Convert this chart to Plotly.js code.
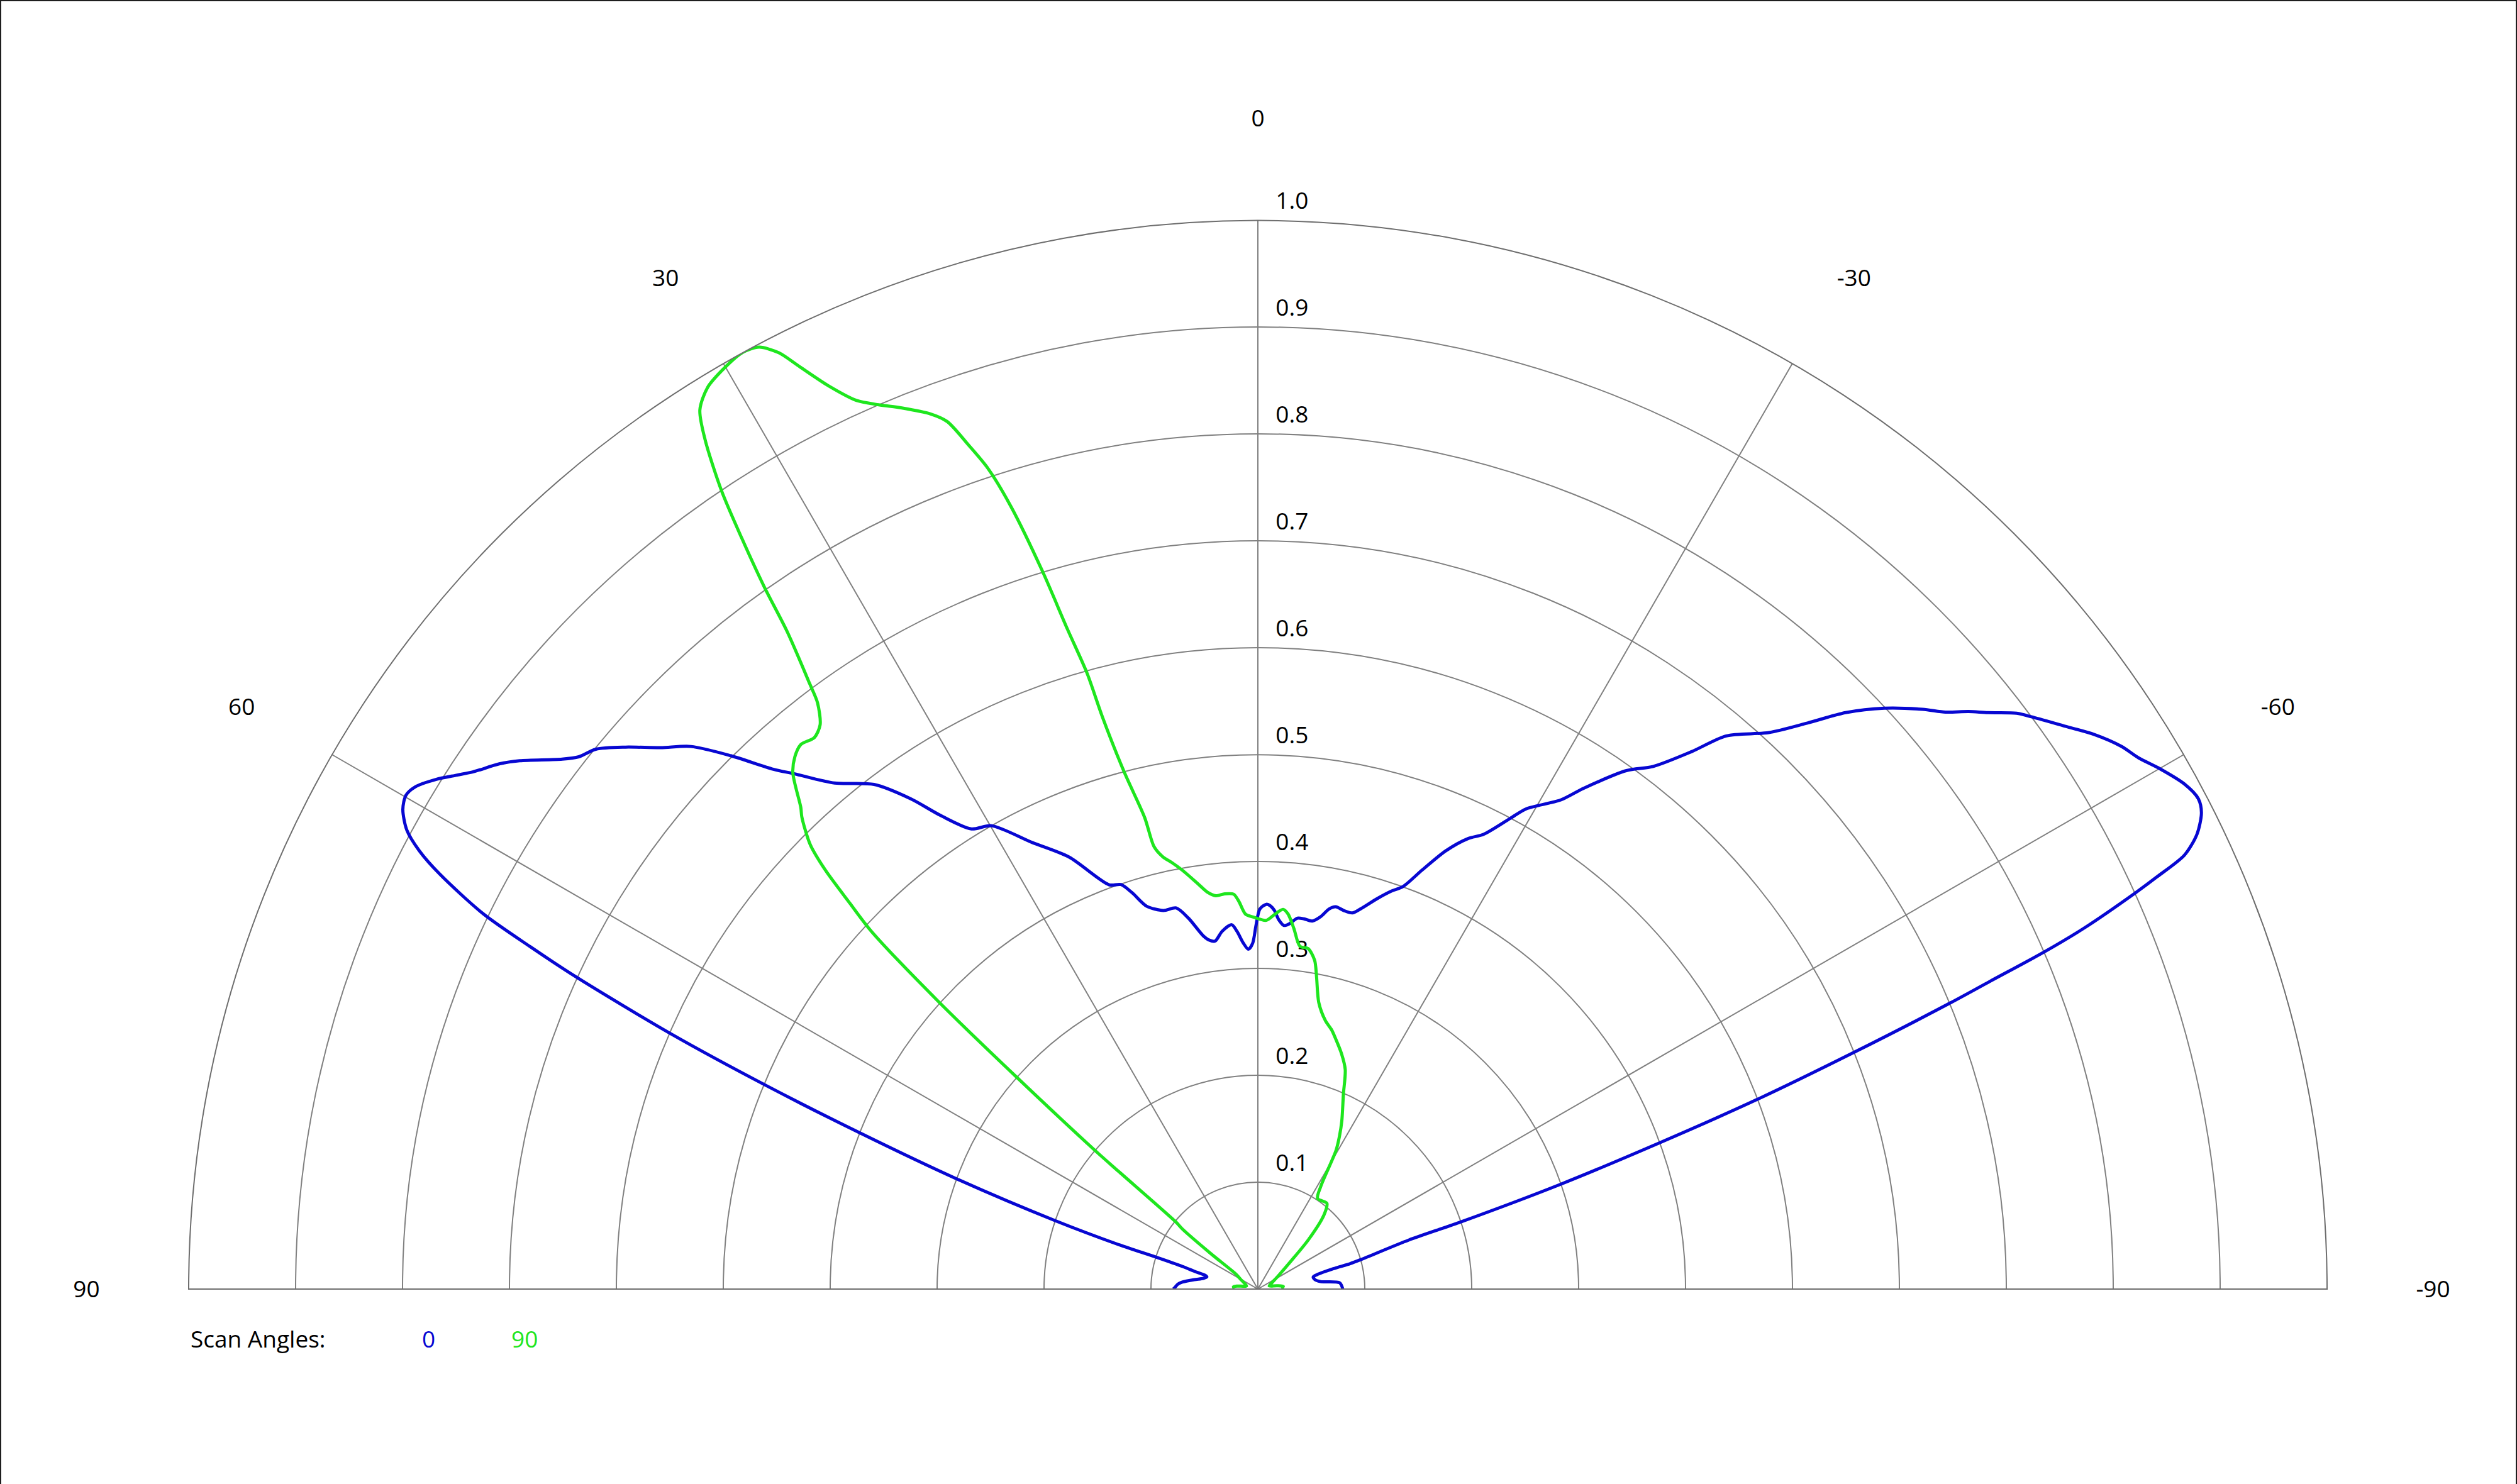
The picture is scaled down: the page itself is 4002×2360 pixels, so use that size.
<!DOCTYPE html>
<html>
<head>
<meta charset="utf-8">
<script src="https://cdn.plot.ly/plotly-3.0.1.min.js"></script>
<style>
  html, body { margin: 0; padding: 0; background: #ffffff; }
  #chart { width: 4002px; height: 2360px; }
</style>
</head>
<body>
<div id="chart"></div>
<script>
// ---------------- data ----------------
const angleTickVals = [-90, -60, -30, 0, 30, 60, 90];
const angleTickText = ['-90', '-60', '-30', '0', '30', '60', '90'];
const ringVals = [0.1, 0.2, 0.3, 0.4, 0.5, 0.6, 0.7, 0.8, 0.9, 1.0];
const ringLabels = ['0.1', '0.2', '0.3', '0.4', '0.5', '0.6', '0.7', '0.8', '0.9', '1.0'];
const legendTitle = 'Scan Angles:';
const seriesNames = ['0', '90'];
const seriesColors = ['#0707d2', '#1ee61e'];

// Scan angle 0 (blue)
const theta0 = [89.9, 88.8, 86.5, 84.7, 81.5, 78.9, 76.5, 75.5, 74.3, 73.3, 72.6, 72.3, 71.35, 69.9, 68.57,
  67.5, 66.5, 65.4, 64.8, 64.15, 63.1, 62.4, 61.65, 60.7, 59.9, 59.2, 58.2, 57.3, 56.6, 55.3, 54.4, 52.7,
  51.9, 50.8, 49.4, 47.8, 46.25, 44.66, 42.98, 41.95, 39.9, 37.25, 35.3, 33.8, 31.9, 29.9, 26.8, 23.6,
  20.2, 18.7, 17.6, 16.2, 14.0, 12.1, 10.6, 8.8, 7.9, 7.0, 5.7, 4.1, 3.35, 2.4, 1.6, 0.86, 0.3, -0.3,
  -1.25, -1.9, -2.5, -3.2, -4.1, -4.9, -6.1, -7.1, -8.4, -9.6, -10.6, -11.5, -12.8, -14.1, -15.1, -17.0,
  -18.6, -19.8, -21.4, -23.2, -25.0, -26.4, -28.2, -29.2, -31.75, -33.05, -35.4, -37.1, -38.9, -40.25,
  -42.55, -44.15, -45.55, -47.15, -48.9, -50.0, -50.9, -51.7, -52.8, -53.5, -55.0, -56.45, -57.85, -58.9,
  -60.0, -61.4, -62.45, -63.2, -64.15, -64.9, -65.36, -65.69, -66.4, -66.8, -67.2, -67.55, -68.35, -69.2,
  -70.0, -70.9, -71.7, -72.0, -74.0, -74.6, -74.9, -76.4, -77.7, -80.5, -83.2, -85.6, -89.9];
const r0 = [0.079, 0.0775, 0.075, 0.071, 0.060, 0.052, 0.049, 0.0506, 0.062, 0.0737, 0.0995, 0.136, 0.200, 0.300, 0.400,
  0.4986, 0.598, 0.701, 0.752, 0.805, 0.858, 0.885, 0.9045, 0.917, 0.921, 0.9175, 0.9046, 0.890, 0.879, 0.863, 0.849, 0.818,
  0.807, 0.799, 0.779, 0.754, 0.734, 0.7015, 0.6647, 0.648, 0.617, 0.593, 0.562, 0.533, 0.507, 0.500, 0.468, 0.441,
  0.403, 0.3995, 0.389, 0.373, 0.365, 0.3646, 0.353, 0.3345, 0.3295, 0.328, 0.3364, 0.3417, 0.3353, 0.3239, 0.318, 0.3236, 0.340, 0.3555,
  0.360, 0.3585, 0.3545, 0.3464, 0.341, 0.3429, 0.349, 0.349, 0.348, 0.3535, 0.3617, 0.365, 0.3631, 0.3628, 0.3683, 0.382,
  0.393, 0.400, 0.421, 0.446, 0.465, 0.475, 0.4997, 0.5147, 0.538, 0.559, 0.595, 0.613, 0.646, 0.678,
  0.7067, 0.738, 0.770, 0.799, 0.825, 0.8396, 0.8566, 0.870, 0.891, 0.900, 0.919, 0.9387, 0.954, 0.962,
  0.9738, 0.987, 0.992, 0.9887, 0.976, 0.957, 0.9255, 0.901, 0.843, 0.799, 0.7425, 0.700, 0.5986, 0.4997,
  0.399, 0.2998, 0.1988, 0.1485, 0.1007, 0.0895, 0.073, 0.0565, 0.053, 0.054, 0.059, 0.0767, 0.0794];

// Scan angle 90 (green)
const theta90 = [88, 85, 82, 79, 75, 68, 60, 55.6, 53, 51.5, 50.7, 49.8, 49.6, 48.7, 48.0, 47.2, 46.6, 45.9,
  45.2, 44.0, 43.5, 42.0, 41.0, 40.0, 38.8, 37.8, 36.9, 36.5, 35.6, 35.1, 34.5, 33.9, 33.05, 32.4, 31.4,
  30.0, 28.8, 27.9, 27.1, 26.4, 25.4, 24.3, 23.2, 22.0, 20.5, 19.7, 18.9, 18.2, 17.5, 16.7, 16.1, 15.5,
  15.2, 14.5, 13.5, 13.2, 12.4, 11.4, 10.2, 8.5, 7.2, 6.1, 4.8, 3.5, 2.8, 1.9, 0.7, -1.3, -2.6, -3.8,
  -4.6, -5.7, -7.0, -8.4, -9.8, -10.6, -12.0, -14.1, -15.9, -17.1, -19.5, -21.7, -23.7, -26.5, -28.1,
  -29.4, -31.5, -33.4, -38.8, -41.7, -45.7, -49.7, -56.9, -69.7, -75, -80, -84, -88];
const r90 = [0.022, 0.023, 0.020, 0.014, 0.011, 0.013, 0.019, 0.025, 0.055, 0.090, 0.099, 0.170, 0.199, 0.300, 0.402, 0.493, 0.525, 0.5636,
  0.590, 0.614, 0.621, 0.650, 0.660, 0.665, 0.662, 0.668, 0.686, 0.705, 0.756, 0.803, 0.852, 0.899, 0.948, 0.974, 0.988,
  0.996, 1.0, 0.997, 0.984, 0.963, 0.935, 0.912, 0.900, 0.889, 0.874, 0.862, 0.834, 0.808, 0.767, 0.701, 0.643, 0.598,
  0.555, 0.500, 0.4537, 0.425, 0.414, 0.407, 0.398, 0.384, 0.374, 0.370, 0.371, 0.370, 0.363, 0.351, 0.348, 0.345, 0.351, 0.356,
  0.352, 0.339, 0.323, 0.322, 0.312, 0.298, 0.274, 0.259, 0.252, 0.246, 0.234, 0.221, 0.199, 0.176, 0.162,
  0.149, 0.1125, 0.1015, 0.103, 0.093, 0.066, 0.041, 0.023, 0.0125, 0.011, 0.018, 0.024, 0.022];

// ---------------- chart ----------------
const FONT = '"Open Sans", "Noto Sans", "DejaVu Sans", sans-serif';
const FS = 37;
const W = 4002, H = 2360;

const traces = [
  {
    type: 'scatterpolar',
    mode: 'markers+text',
    r: ringVals,
    theta: ringVals.map(() => 0),
    text: ringLabels.map(s => '\u00a0\u00a0' + s),
    textposition: 'top right',
    textfont: { family: FONT, size: FS, color: '#000000' },
    marker: { size: 13, color: 'rgba(0,0,0,0)' },
    cliponaxis: false,
    hoverinfo: 'skip',
    showlegend: false
  },
  {
    type: 'scatterpolar',
    mode: 'lines',
    name: seriesNames[0],
    r: r0,
    theta: theta0,
    line: { color: seriesColors[0], width: 5, shape: 'spline', smoothing: 0.8 },
    cliponaxis: false
  },
  {
    type: 'scatterpolar',
    mode: 'lines',
    name: seriesNames[1],
    r: r90,
    theta: theta90,
    line: { color: seriesColors[1], width: 5, shape: 'spline', smoothing: 0.8 },
    cliponaxis: false
  }
];

const layout = {
  width: W,
  height: H,
  margin: { l: 0, r: 0, t: 0, b: 0, pad: 0 },
  paper_bgcolor: '#ffffff',
  plot_bgcolor: '#ffffff',
  showlegend: false,
  font: { family: FONT, size: FS, color: '#000000' },
  polar: {
    domain: { x: [300 / W, 3700 / W], y: [310 / H, 2010 / H] },
    sector: [0, 180],
    bgcolor: '#ffffff',
    angularaxis: {
      rotation: 90,
      direction: 'counterclockwise',
      tickmode: 'array',
      tickvals: angleTickVals,
      ticktext: angleTickText,
      showgrid: true,
      gridcolor: '#808080',
      gridwidth: 2,
      showline: true,
      linecolor: '#6e6e6e',
      linewidth: 2,
      ticks: 'outside',
      ticklen: 133,
      tickcolor: 'rgba(0,0,0,0)',
      tickfont: { family: FONT, size: FS, color: '#000000' }
    },
    radialaxis: {
      range: [0, 1],
      angle: 90,
      tickmode: 'array',
      tickvals: ringVals,
      showticklabels: false,
      ticks: '',
      showline: false,
      showgrid: true,
      gridcolor: '#808080',
      gridwidth: 2
    }
  },
  annotations: [
    { text: legendTitle, xref: 'paper', yref: 'paper', x: 301 / W, y: (H - 2128) / H,
      xanchor: 'left', yanchor: 'middle', showarrow: false, font: { family: FONT, size: FS, color: '#000000' } },
    { text: seriesNames[0], xref: 'paper', yref: 'paper', x: 681 / W, y: (H - 2128) / H,
      xanchor: 'center', yanchor: 'middle', showarrow: false, font: { family: FONT, size: FS, color: seriesColors[0] } },
    { text: seriesNames[1], xref: 'paper', yref: 'paper', x: 834 / W, y: (H - 2128) / H,
      xanchor: 'center', yanchor: 'middle', showarrow: false, font: { family: FONT, size: FS, color: seriesColors[1] } }
  ],
  shapes: [
    { type: 'path', xref: 'paper', yref: 'paper', path: 'M0,0 L0,1 L1,1 L1,0',
      line: { color: '#1e1e1e', width: 4 } }
  ]
};

Plotly.newPlot('chart', traces, layout, { displayModeBar: false, staticPlot: true });
</script>
</body>
</html>
